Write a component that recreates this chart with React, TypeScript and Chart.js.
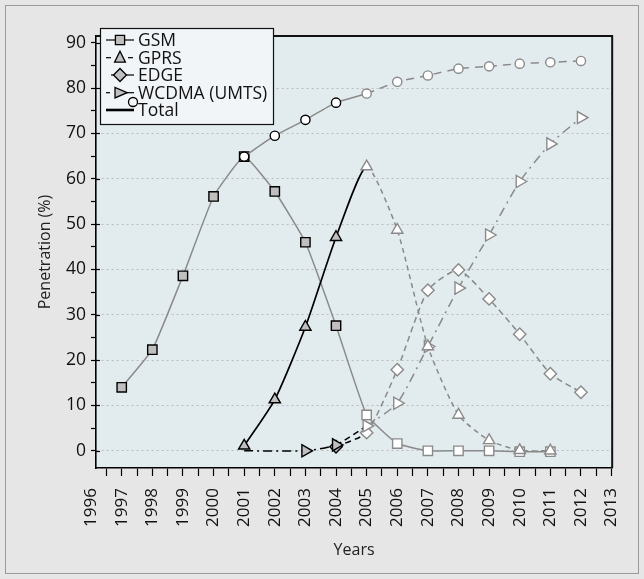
import React, { useEffect, useRef } from "react";
import { Chart, registerables } from "chart.js";

Chart.register(...registerables);

const FONT = "'Open Sans', 'DejaVu Sans', sans-serif";

// ---- data ----
const gsmYears = [1997, 1998, 1999, 2000, 2001, 2002, 2003, 2004, 2005, 2006, 2007, 2008, 2009, 2010, 2011];
const gsmValues = [14, 22.3, 38.6, 56.1, 64.9, 57.2, 46, 27.6, 7.9, 1.6, 0, 0, 0, -0.2, -0.2];

const gprsYears = [2001, 2002, 2003, 2004, 2005, 2006, 2007, 2008, 2009, 2010, 2011];
const gprsValues = [1.1, 11.3, 27.3, 47.1, 62.7, 48.7, 23, 7.9, 2.3, 0.1, 0];

const edgeYears = [2004, 2005, 2006, 2007, 2008, 2009, 2010, 2011, 2012];
const edgeValues = [0.9, 4, 17.9, 35.4, 39.9, 33.5, 25.7, 17, 12.9];

const wcdmaYears = [2001, 2003, 2004, 2005, 2006, 2007, 2008, 2009, 2010, 2011, 2012];
const wcdmaValues = [0, 0, 1.3, 5.5, 10.5, 23, 35.9, 47.6, 59.4, 67.7, 73.5];

const totalYears = [2001, 2002, 2003, 2004, 2005, 2006, 2007, 2008, 2009, 2010, 2011, 2012];
const totalValues = [64.9, 69.5, 73, 76.8, 78.8, 81.4, 82.8, 84.3, 84.8, 85.4, 85.7, 86];

const xTickYears = [1996, 1997, 1998, 1999, 2000, 2001, 2002, 2003, 2004, 2005, 2006, 2007, 2008, 2009, 2010, 2011, 2012, 2013];
const yTickLabels = [0, 10, 20, 30, 40, 50, 60, 70, 80, 90];
const seriesNames = ["GSM", "GPRS", "EDGE", "WCDMA (UMTS)", "Total"];
const FORECAST_FROM = 2005;

const GRAY = "#8a8a8a";
const MARK_FILL = "#bfbfbf";

const toPts = (xs: number[], ys: number[]) => xs.map((x, i) => ({ x, y: ys[i] }));
const isFc = (c: any) => !!(c && c.raw && c.raw.x >= FORECAST_FROM);
const p0x = (c: any) => c.p0.parsed.x;

function drawMarker(ctx: CanvasRenderingContext2D, kind: string, x: number, y: number, fill: string, stroke: string) {
  ctx.beginPath();
  if (kind === "square") ctx.rect(x - 4.6, y - 4.6, 9.2, 9.2);
  else if (kind === "tri") {
    ctx.moveTo(x, y - 6.5);
    ctx.lineTo(x + 5.4, y + 4.5);
    ctx.lineTo(x - 5.4, y + 4.5);
    ctx.closePath();
  } else if (kind === "triR") {
    ctx.moveTo(x + 7, y);
    ctx.lineTo(x - 5, y - 5.2);
    ctx.lineTo(x - 5, y + 5.2);
    ctx.closePath();
  } else if (kind === "diamond") {
    ctx.moveTo(x, y - 6.5);
    ctx.lineTo(x + 6.5, y);
    ctx.lineTo(x, y + 6.5);
    ctx.lineTo(x - 6.5, y);
    ctx.closePath();
  } else if (kind === "circle") ctx.arc(x, y, 4.5, 0, Math.PI * 2);
  ctx.fillStyle = fill;
  ctx.fill();
  ctx.strokeStyle = stroke;
  ctx.lineWidth = 1.3;
  ctx.stroke();
}

function seg(ctx: CanvasRenderingContext2D, x1: number, x2: number, y: number, w = 1.2) {
  ctx.beginPath();
  ctx.moveTo(x1, y);
  ctx.lineTo(x2, y);
  ctx.strokeStyle = "#000";
  ctx.lineWidth = w;
  ctx.stroke();
}

const decorPlugin = {
  id: "decor",
  beforeDraw(chart: any) {
    const { ctx, chartArea: a, width, height } = chart;
    ctx.save();
    ctx.fillStyle = "#e6e6e6";
    ctx.fillRect(0, 0, width, height);
    ctx.strokeStyle = "#9a9a9a";
    ctx.lineWidth = 1;
    ctx.strokeRect(5.5, 5.5, width - 11, height - 11);
    ctx.fillStyle = "#e2ebee";
    ctx.fillRect(a.left, a.top, a.right - a.left, a.bottom - a.top);
    ctx.restore();
  },
  afterDatasetsDraw(chart: any) {
    const { ctx, chartArea: a, scales } = chart;
    ctx.save();
    ctx.strokeStyle = "#111";
    ctx.lineWidth = 2;
    ctx.beginPath();
    ctx.moveTo(a.left, a.top);
    ctx.lineTo(a.right, a.top);
    ctx.lineTo(a.right, a.bottom);
    ctx.stroke();
    // inward part of major y ticks
    ctx.lineWidth = 1.2;
    ctx.strokeStyle = "#000";
    for (const v of yTickLabels) {
      const py = Math.round(scales.y.getPixelForValue(v)) + 0.5;
      ctx.beginPath();
      ctx.moveTo(a.left, py);
      ctx.lineTo(a.left + 4, py);
      ctx.stroke();
    }
    ctx.restore();
  },
  afterDraw(chart: any) {
    const { ctx } = chart;
    ctx.save();
    const lx = 100, ly = 28, lw = 173, lh = 96;
    ctx.fillStyle = "#f1f5f8";
    ctx.fillRect(lx, ly, lw, lh);
    ctx.strokeStyle = "#111";
    ctx.lineWidth = 1.2;
    ctx.strokeRect(lx + 0.5, ly + 0.5, lw, lh);
    const rows = [40, 57.7, 75, 92.7, 110];
    // GSM
    seg(ctx, 106, 134, rows[0]);
    drawMarker(ctx, "square", 120, rows[0], MARK_FILL, "#000");
    // GPRS
    seg(ctx, 106, 111, rows[1]);
    seg(ctx, 128, 133, rows[1]);
    drawMarker(ctx, "tri", 120, rows[1], MARK_FILL, "#000");
    // EDGE
    seg(ctx, 111, 134, rows[2]);
    drawMarker(ctx, "diamond", 120, rows[2], MARK_FILL, "#000");
    // WCDMA
    seg(ctx, 106, 110, rows[3]);
    seg(ctx, 126, 134, rows[3]);
    drawMarker(ctx, "triR", 120, rows[3], MARK_FILL, "#000");
    // Total
    seg(ctx, 106, 134, rows[4], 2.6);
    drawMarker(ctx, "circle", 133, 102, "#f4f6f8", "#000");
    ctx.fillStyle = "#111";
    ctx.font = `17.5px ${FONT}`;
    ctx.textBaseline = "middle";
    ctx.textAlign = "left";
    seriesNames.forEach((n, i) => ctx.fillText(n, 138, rows[i] + 1));
    ctx.restore();
  },
};

export default function App() {
  const ref = useRef<HTMLCanvasElement | null>(null);

  useEffect(() => {
    document.body.style.margin = "0";
    const canvas = ref.current;
    if (!canvas) return;

    const commonPoint = {
      pointBackgroundColor: (c: any) => (isFc(c) ? "#ffffff" : MARK_FILL),
      pointBorderColor: (c: any) => (isFc(c) ? GRAY : "#000"),
      pointBorderWidth: 1.4,
    };

    const chart = new Chart(canvas, {
      type: "line",
      data: {
        datasets: [
          {
            label: seriesNames[1],
            data: toPts(gprsYears, gprsValues),
            borderColor: GRAY,
            borderWidth: 1.5,
            tension: 0.2,
            segment: {
              borderColor: (c: any) => (p0x(c) < FORECAST_FROM ? "#000" : GRAY),
              borderDash: (c: any) => (p0x(c) < FORECAST_FROM ? [] : [5, 4]),
              borderWidth: (c: any) => (p0x(c) < FORECAST_FROM ? 1.7 : 1.5),
            },
            pointStyle: "triangle",
            pointRadius: 6.5,
            ...commonPoint,
          },
          {
            label: seriesNames[4],
            data: toPts(totalYears, totalValues),
            borderColor: GRAY,
            borderWidth: 1.5,
            tension: 0.2,
            segment: {
              borderDash: (c: any) => (p0x(c) < FORECAST_FROM ? [] : [8, 6]),
            },
            pointStyle: "circle",
            pointRadius: 4.6,
            pointBackgroundColor: "#ffffff",
            pointBorderColor: (c: any) => (isFc(c) ? GRAY : "#000"),
            pointBorderWidth: 1.4,
          },
          {
            label: seriesNames[0],
            data: toPts(gsmYears, gsmValues),
            borderColor: GRAY,
            borderWidth: 1.5,
            tension: 0.12,
            pointStyle: "rect",
            pointRadius: 6.6,
            ...commonPoint,
          },
          {
            label: seriesNames[3],
            data: toPts(wcdmaYears, wcdmaValues),
            borderColor: GRAY,
            borderWidth: 1.5,
            tension: 0.2,
            segment: {
              borderColor: (c: any) => (p0x(c) < FORECAST_FROM ? "#000" : GRAY),
              borderDash: (c: any) =>
                p0x(c) < 2004 ? [9, 4, 2, 4] : p0x(c) < FORECAST_FROM ? [6, 4] : [9, 5, 2, 5],
            },
            pointStyle: "triangle",
            rotation: 90,
            pointRadius: (c: any) => (c.raw && c.raw.x < 2002 ? 0 : 7),
            ...commonPoint,
          },
          {
            label: seriesNames[2],
            data: toPts(edgeYears, edgeValues),
            borderColor: GRAY,
            borderWidth: 1.5,
            tension: 0.2,
            segment: {
              borderColor: (c: any) => (p0x(c) < FORECAST_FROM ? "#000" : GRAY),
              borderDash: [6, 4],
            },
            pointStyle: "rectRot",
            pointRadius: 6.2,
            ...commonPoint,
          },
        ],
      },
      options: {
        responsive: false,
        animation: false,
        devicePixelRatio: 1,
        layout: { padding: { left: 0, top: 36, right: 27, bottom: 0 } },
        plugins: {
          legend: { display: false },
          tooltip: { enabled: false },
        },
        scales: {
          x: {
            type: "linear",
            min: 1996.16,
            max: 2013.02,
            afterBuildTicks: (s: any) => {
              const t: any[] = [];
              xTickYears.forEach((y, i) => {
                t.push({ value: y });
                if (i < xTickYears.length - 1) t.push({ value: y + 0.5 });
              });
              s.ticks = t;
            },
            afterFit: (s: any) => {
              s.height = 579 - 468;
            },
            ticks: {
              autoSkip: false,
              maxRotation: 90,
              minRotation: 90,
              padding: 12,
              color: "#111",
              font: { family: FONT, size: 17 },
              callback: (v: any) => (Number.isInteger(v) ? String(v) : ""),
            },
            grid: {
              drawOnChartArea: false,
              tickLength: 8,
              tickWidth: 1.2,
              tickColor: (c: any) => (c.tick && c.tick.value < 1996.1 ? "rgba(0,0,0,0)" : "#000"),
            },
            border: { color: "#000", width: 1.6 },
            title: {
              display: true,
              text: "Years",
              color: "#222",
              font: { family: FONT, size: 16 },
              padding: { top: 0, bottom: 19 },
            },
          },
          y: {
            type: "linear",
            min: -3.8,
            max: 91.5,
            afterBuildTicks: (s: any) => {
              const t: any[] = [];
              yTickLabels.forEach((v, i) => {
                t.push({ value: v });
                if (i < yTickLabels.length - 1) t.push({ value: v + 5 });
              });
              s.ticks = t;
            },
            afterFit: (s: any) => {
              s.width = 96;
            },
            ticks: {
              padding: 5,
              color: "#111",
              font: { family: FONT, size: 17.5 },
              callback: (v: any) => (yTickLabels.includes(v) ? String(v) : ""),
            },
            grid: {
              color: (c: any) =>
                c.tick && yTickLabels.includes(c.tick.value) && c.tick.value < 90 ? "#bcbcbc" : "rgba(0,0,0,0)",
              lineWidth: 1,
              tickLength: 5,
              tickWidth: 1.2,
              tickColor: "#000",
            },
            border: { color: "#000", width: 1.6, dash: [2, 3] },
            title: {
              display: true,
              text: "Penetration (%)",
              color: "#222",
              font: { family: FONT, size: 16 },
              padding: { top: 36, bottom: 0 },
            },
          },
        },
      },
      plugins: [decorPlugin],
    } as any);

    return () => chart.destroy();
  }, []);

  return <canvas ref={ref} width={644} height={579} style={{ display: "block", width: 644, height: 579 }} />;
}
